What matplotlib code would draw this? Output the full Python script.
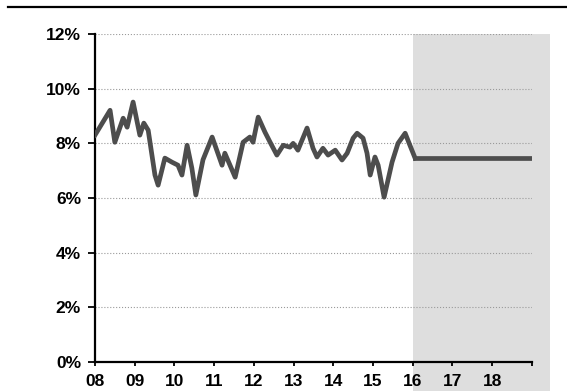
import matplotlib.pyplot as plt
from matplotlib.lines import Line2D

# history (decimal year, percent)
years = [2008.00, 2008.38, 2008.50, 2008.71, 2008.81, 2008.96, 2009.13, 2009.23,
         2009.34, 2009.51, 2009.59, 2009.76, 2009.94, 2010.09, 2010.19, 2010.32,
         2010.44, 2010.54, 2010.72, 2010.95, 2011.20, 2011.27, 2011.53, 2011.73,
         2011.90, 2011.98, 2012.11, 2012.28, 2012.41, 2012.58, 2012.74, 2012.91,
         2012.99, 2013.11, 2013.34, 2013.49, 2013.59, 2013.74, 2013.87, 2014.05,
         2014.22, 2014.35, 2014.50, 2014.60, 2014.75, 2014.85, 2014.93, 2015.05,
         2015.13, 2015.28, 2015.48, 2015.63, 2015.81, 2015.93, 2016.06]
rate = [8.30, 9.21, 8.04, 8.92, 8.59, 9.51, 8.30, 8.74,
        8.48, 6.84, 6.47, 7.46, 7.31, 7.20, 6.84, 7.93,
        7.09, 6.11, 7.40, 8.23, 7.20, 7.64, 6.76, 8.04,
        8.23, 8.04, 8.96, 8.41, 8.04, 7.57, 7.93, 7.86,
        8.00, 7.75, 8.56, 7.82, 7.50, 7.82, 7.57, 7.75,
        7.39, 7.64, 8.19, 8.37, 8.19, 7.64, 6.84, 7.50,
        7.20, 6.03, 7.31, 8.00, 8.37, 7.93, 7.46]

# flat projection
proj_years = [2016.06, 2019.05]
proj_rate = [7.46, 7.46]

forecast_start = 2016
forecast_end = 2019.46

yticks = [0, 2, 4, 6, 8, 10, 12]
xticks = list(range(2008, 2020))
xlabels = ['08', '09', '10', '11', '12', '13', '14', '15', '16', '17', '18', '']

plt.rcParams['font.family'] = ['Liberation Sans', 'DejaVu Sans']

fig = plt.figure(figsize=(5.67, 3.91), dpi=100)
ax = fig.add_axes([0.1675, 0.0742, 0.7705, 0.8388])

ax.axvspan(forecast_start, forecast_end, ymin=-0.09, ymax=1.0, color='#dedede',
           lw=0, clip_on=False, zorder=0)

for y in yticks[1:]:
    ax.axhline(y, color='#9a9a9a', lw=0.8, ls=':', zorder=1)

ax.plot(years, rate, color='#4d4d4d', lw=3.4, solid_joinstyle='round', zorder=3)
ax.plot(proj_years, proj_rate, color='#4d4d4d', lw=3.4, zorder=3)

ax.set_xlim(2008, 2019)
ax.set_ylim(0, 12)
ax.set_yticks(yticks)
ax.set_yticklabels([f'{v}%' for v in yticks])
ax.set_xticks(xticks)
ax.set_xticklabels(xlabels)

for s in ['top', 'right']:
    ax.spines[s].set_visible(False)
for s in ['left', 'bottom']:
    ax.spines[s].set_linewidth(1.6)
    ax.spines[s].set_color('black')

ax.tick_params(axis='y', direction='out', length=5, width=1.3, pad=5,
               labelsize=12.5)
ax.tick_params(axis='x', direction='out', length=3, width=1.3, pad=6,
               labelsize=12.5)
for lab in ax.get_xticklabels() + ax.get_yticklabels():
    lab.set_fontweight('bold')

# rule across the top
fig.add_artist(Line2D([0.014, 1.0], [0.982, 0.982], transform=fig.transFigure,
                      color='black', lw=1.6))

fig.savefig('out.png', dpi=100)
